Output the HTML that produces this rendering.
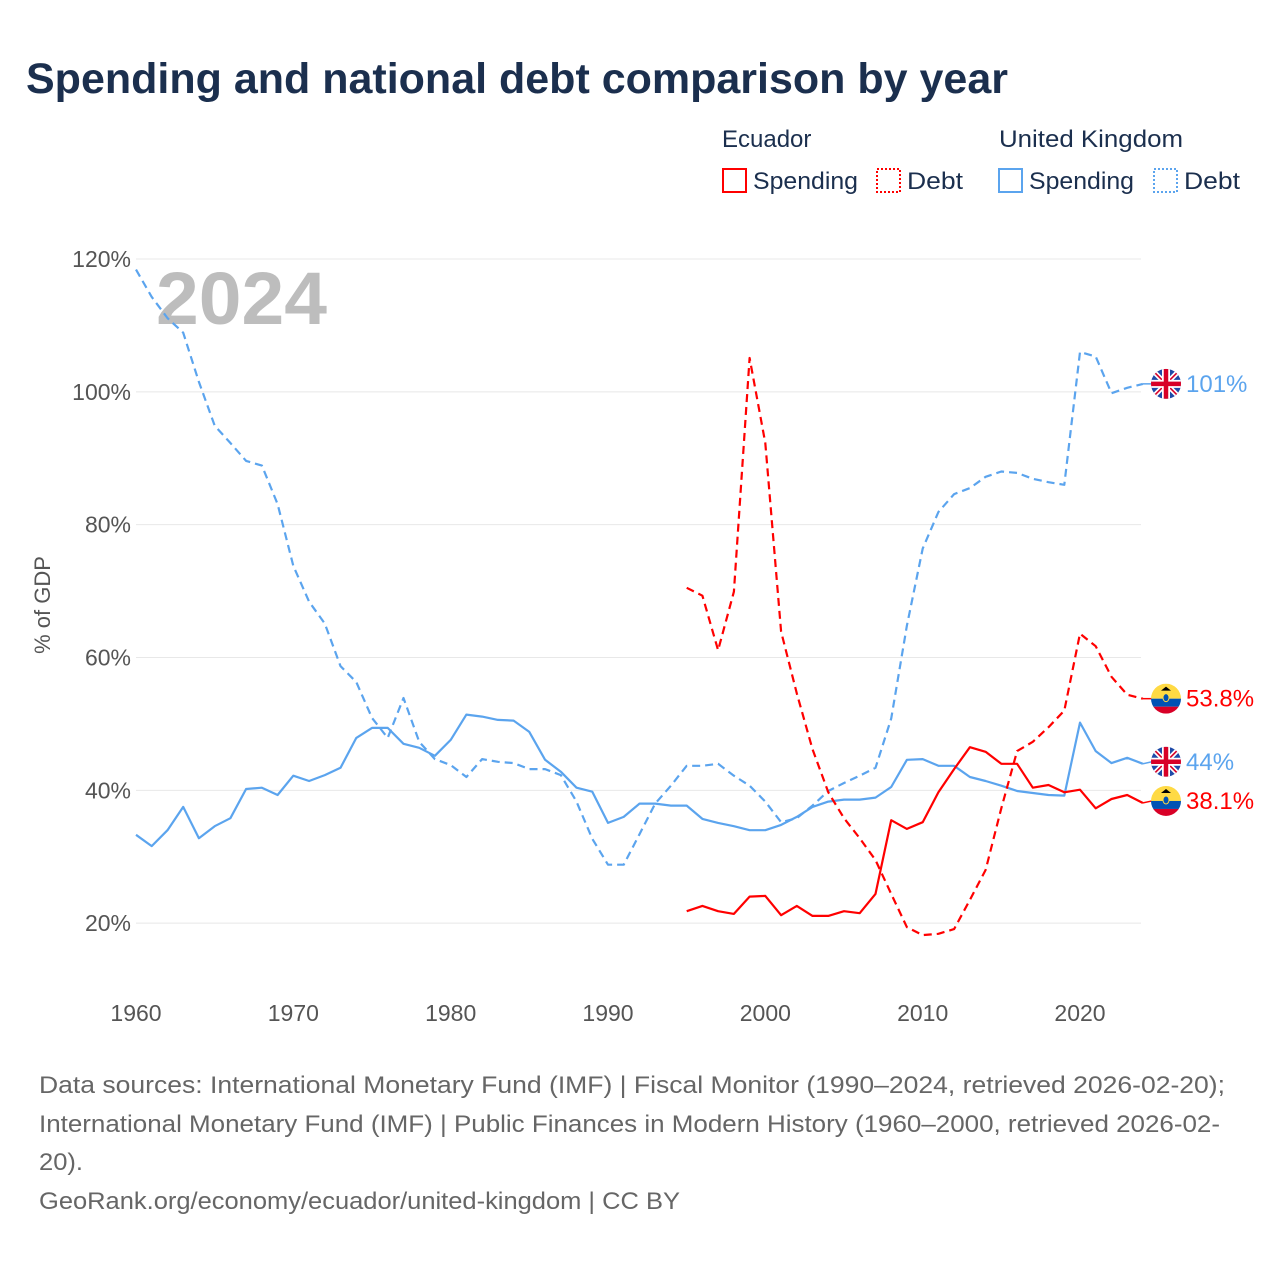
<!DOCTYPE html>
<html><head><meta charset="utf-8"><style>
html,body{margin:0;padding:0;background:#fff;width:1280px;height:1280px;overflow:hidden}
svg{display:block;font-family:"Liberation Sans",sans-serif}
</style></head><body>
<svg id="chart" width="1280" height="1280" viewBox="0 0 1280 1280">
<text x="26" y="93" font-size="43" font-weight="bold" fill="#1b2f4e">Spending and national debt comparison by year</text>
<g font-size="24" fill="#1b2f4e">
<text x="722" y="147">Ecuador</text>
<text x="999" y="147" textLength="184" lengthAdjust="spacingAndGlyphs">United Kingdom</text>
<g><rect x="723" y="169" width="23" height="23" fill="none" stroke="#f00" stroke-width="2"/><text x="753" y="189" textLength="105" lengthAdjust="spacingAndGlyphs">Spending</text></g>
<g><rect x="877" y="169" width="23" height="23" fill="none" stroke="#f00" stroke-width="2" stroke-dasharray="2,2"/><text x="907" y="189" textLength="56" lengthAdjust="spacingAndGlyphs">Debt</text></g>
<g><rect x="999" y="169" width="23" height="23" fill="none" stroke="#5ba4ee" stroke-width="2"/><text x="1029" y="189" textLength="105" lengthAdjust="spacingAndGlyphs">Spending</text></g>
<g><rect x="1154" y="169" width="23" height="23" fill="none" stroke="#5ba4ee" stroke-width="2" stroke-dasharray="2,2"/><text x="1184" y="189" textLength="56" lengthAdjust="spacingAndGlyphs">Debt</text></g>
</g>
<g id="grid"></g>
<text x="156" y="324" font-size="74" font-weight="bold" fill="#bdbdbd" textLength="171" lengthAdjust="spacingAndGlyphs">2024</text>
<text transform="translate(50,605) rotate(-90)" text-anchor="middle" font-size="22" fill="#555">% of GDP</text>
<g id="series"></g>
<g id="labels"></g>
<g font-size="24" fill="#666">
<text x="39" y="1093" textLength="1186" lengthAdjust="spacingAndGlyphs">Data sources: International Monetary Fund (IMF) | Fiscal Monitor (1990–2024, retrieved 2026-02-20);</text>
<text x="39" y="1132" textLength="1181" lengthAdjust="spacingAndGlyphs">International Monetary Fund (IMF) | Public Finances in Modern History (1960–2000, retrieved 2026-02-</text>
<text x="39" y="1170" textLength="44" lengthAdjust="spacingAndGlyphs">20).</text>
<text x="39" y="1209" textLength="641" lengthAdjust="spacingAndGlyphs">GeoRank.org/economy/ecuador/united-kingdom | CC BY</text>
</g>
</svg>
<script>
const yTicks=[20,40,60,80,100,120];
const xTicks=[1960,1970,1980,1990,2000,2010,2020];
const ukYears0=1960;
const ukSpending=[33.3,31.6,34.0,37.5,32.8,34.6,35.8,40.2,40.4,39.3,42.2,41.4,42.3,43.4,47.9,49.4,49.4,47.0,46.4,45.2,47.6,51.4,51.1,50.6,50.5,48.8,44.6,42.8,40.4,39.8,35.1,36.0,38.0,38.0,37.7,37.7,35.7,35.1,34.6,34.0,34.0,34.8,36.0,37.5,38.3,38.6,38.6,38.9,40.5,44.6,44.7,43.7,43.7,42.0,41.4,40.7,39.9,39.6,39.3,39.2,50.2,45.9,44.1,44.9,44.0];
const ukDebt=[118.4,114.3,111.1,108.9,101.5,94.9,92.3,89.6,88.9,83.1,73.8,68.4,65.1,58.7,56.3,50.9,47.9,53.9,47.3,44.7,43.8,42.0,44.7,44.3,44.1,43.2,43.2,42.3,38.3,32.7,28.8,28.8,33.4,38.0,40.7,43.7,43.7,44.0,42.2,40.7,38.3,35.2,35.8,37.7,39.9,41.1,42.2,43.4,50.8,64.8,76.4,81.9,84.6,85.5,87.2,88.0,87.8,86.9,86.4,86.0,106.0,105.3,99.8,100.6,101.2];
const ecYears0=1995;
const ecSpending=[21.8,22.6,21.8,21.4,24.0,24.1,21.2,22.6,21.1,21.1,21.8,21.5,24.4,35.5,34.2,35.2,39.7,43.2,46.5,45.8,44.0,44.0,40.4,40.8,39.7,40.1,37.3,38.7,39.3,38.1];
const ecDebt=[70.5,69.3,61.1,69.9,105.1,92.3,63.9,54.6,46.2,39.7,35.8,32.8,29.5,24.4,19.4,18.2,18.4,19.1,23.5,28.0,37.3,45.9,47.3,49.5,52.0,63.6,61.7,57.1,54.4,53.8];
const NS="http://www.w3.org/2000/svg";
function X(yr){return 136+(yr-1960)*(1080-136)/60;}
function Y(v){return 1056-v*(1056-259)/120;}
function mk(tag,attrs,parent){const e=document.createElementNS(NS,tag);for(const k in attrs)e.setAttribute(k,attrs[k]);parent.appendChild(e);return e;}
const grid=document.getElementById('grid');
yTicks.forEach(t=>{
  const l=mk('line',{x1:136,x2:1141,y1:Y(t),y2:Y(t),stroke:'#e8e8e8','stroke-width':1},grid);
  
  
  const tx=mk('text',{x:131,y:Y(t)+8,'text-anchor':'end','font-size':23,fill:'#555'},grid);
  tx.textContent=t+'%';
  
  
});
xTicks.forEach(t=>{
  const tx=mk('text',{x:X(t),y:1021,'text-anchor':'middle','font-size':23,fill:'#555'},grid);
  tx.textContent=t;
  
  
});
const series=document.getElementById('series');
function line(arr,y0,color,dashed,name){
  const d=arr.map((v,i)=>(i?'L':'M')+X(y0+i).toFixed(1)+','+Y(v).toFixed(1)).join('');
  const p=mk('path',{d:d,fill:'none',stroke:color,'stroke-width':2.2,'stroke-linejoin':'round'},series);
  if(dashed)p.setAttribute('stroke-dasharray','8,5');
  
  
}
line(ukDebt,ukYears0,'#5ba4ee',true,'uk-debt-line');
line(ukSpending,ukYears0,'#5ba4ee',false,'uk-spending-line');
line(ecDebt,ecYears0,'#f00',true,'ecuador-debt-line');
line(ecSpending,ecYears0,'#f00',false,'ecuador-spending-line');
const labels=document.getElementById('labels');
function flagUK(cx,cy,g){
  const cp=mk('clipPath',{id:'c'+Math.round(cy)},g);mk('circle',{cx:cx,cy:cy,r:15},cp);
  const f=mk('g',{'clip-path':'url(#c'+Math.round(cy)+')'},g);
  mk('rect',{x:cx-15,y:cy-15,width:30,height:30,fill:'#1f4aa8'},f);
  mk('path',{d:`M${cx-15},${cy-15}L${cx+15},${cy+15}M${cx+15},${cy-15}L${cx-15},${cy+15}`,stroke:'#fff','stroke-width':5},f);
  mk('path',{d:`M${cx-15},${cy-15}L${cx+15},${cy+15}M${cx+15},${cy-15}L${cx-15},${cy+15}`,stroke:'#d80027','stroke-width':1.6},f);
  mk('path',{d:`M${cx},${cy-15}V${cy+15}M${cx-15},${cy}H${cx+15}`,stroke:'#fff','stroke-width':8},f);
  mk('path',{d:`M${cx},${cy-15}V${cy+15}M${cx-15},${cy}H${cx+15}`,stroke:'#d80027','stroke-width':4.5},f);
}
function flagEC(cx,cy,g){
  const cp=mk('clipPath',{id:'c'+Math.round(cy)},g);mk('circle',{cx:cx,cy:cy,r:15},cp);
  const f=mk('g',{'clip-path':'url(#c'+Math.round(cy)+')'},g);
  mk('rect',{x:cx-15,y:cy-15,width:30,height:15,fill:'#ffda44'},f);
  mk('rect',{x:cx-15,y:cy,width:30,height:8,fill:'#0052b4'},f);
  mk('rect',{x:cx-15,y:cy+8,width:30,height:7,fill:'#d80027'},f);
  mk('ellipse',{cx:cx,cy:cy-1,rx:3,ry:4,fill:'#0052b4',stroke:'#ffda44','stroke-width':1},f);
  mk('path',{d:`M${cx-5},${cy-8}L${cx+5},${cy-8}L${cx},${cy-12}Z`,fill:'#000'},f);
}
function endLabel(arr,y0,color,flag,text,ly,name){
  const g=mk('g',{},labels);
  
  
  const v=arr[arr.length-1];const yy=Y(v);
  mk('line',{x1:X(y0+arr.length-1),x2:1152,y1:yy,y2:ly,stroke:color,'stroke-width':1.5},g);
  flag(1166,ly,g);
  const t=mk('text',{x:1186,y:ly+8,'font-size':24,fill:color},g);
  t.textContent=text;
}
endLabel(ukDebt,ukYears0,'#5ba4ee',flagUK,'101%',Y(ukDebt[ukDebt.length-1]),'uk-debt-label');
endLabel(ecDebt,ecYears0,'#f00',flagEC,'53.8%',Y(ecDebt[ecDebt.length-1]),'ecuador-debt-label');
endLabel(ukSpending,ukYears0,'#5ba4ee',flagUK,'44%',Y(ukSpending[ukSpending.length-1])-2,'uk-spending-label');
endLabel(ecSpending,ecYears0,'#f00',flagEC,'38.1%',Y(ecSpending[ecSpending.length-1])-2,'ecuador-spending-label');
</script>
</body></html>
